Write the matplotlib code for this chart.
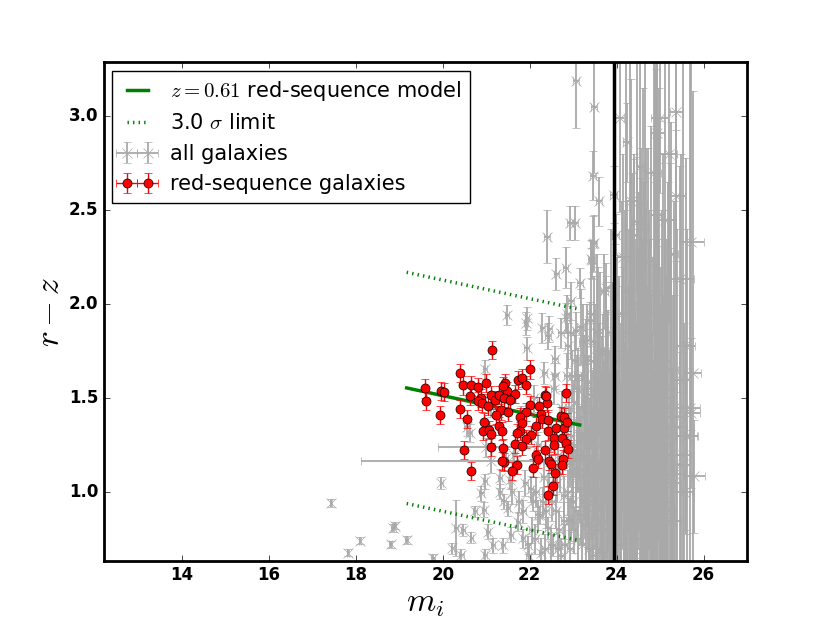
import numpy as np
import matplotlib
matplotlib.use('Agg')
import matplotlib.pyplot as plt

plt.style.use('classic')

# red-sequence model: z = 0.61
model_x = [19.17, 23.15]
model_y = [1.556, 1.359]
sigma_off = 0.615

# red-sequence members (m_i, r-z)
red_x = [21.14, 20.40, 22.01, 19.60, 19.61, 19.96, 20.02, 19.93, 20.47, 20.64,
         20.80, 20.99, 20.62, 20.87, 20.80, 20.39, 20.56, 21.10, 21.20, 21.29,
         21.43, 21.48, 21.40, 21.66, 21.74, 21.82, 21.91, 22.36, 22.83, 22.40,
         22.00, 22.22, 21.92, 21.33, 21.50, 21.22, 20.96, 21.77, 22.25, 22.29,
         22.42, 22.73, 22.79, 21.83, 21.29, 22.15, 20.93, 21.06, 21.10, 21.36,
         21.77, 22.41, 22.61, 22.78, 21.71, 22.04, 21.91, 22.56, 22.74, 22.84,
         22.88, 22.56, 21.66, 21.82, 21.10, 21.39, 20.48, 22.36, 22.15, 22.18,
         22.44, 22.76, 22.74, 21.41, 21.37, 21.70, 21.59, 22.08, 22.50, 22.58,
         20.64, 22.54, 22.43, 21.39, 21.54, 20.91, 21.04, 22.86, 22.37]
red_y = [1.757, 1.636, 1.654, 1.553, 1.485, 1.542, 1.535, 1.411, 1.569, 1.569,
         1.560, 1.583, 1.512, 1.500, 1.485, 1.446, 1.393, 1.517, 1.490, 1.517,
         1.580, 1.539, 1.503, 1.524, 1.596, 1.610, 1.571, 1.516, 1.530, 1.476,
         1.464, 1.460, 1.427, 1.436, 1.427, 1.411, 1.375, 1.400, 1.418, 1.393,
         1.388, 1.405, 1.400, 1.370, 1.352, 1.352, 1.325, 1.334, 1.311, 1.325,
         1.329, 1.325, 1.343, 1.343, 1.316, 1.304, 1.286, 1.290, 1.290, 1.261,
         1.231, 1.254, 1.260, 1.249, 1.242, 1.236, 1.228, 1.226, 1.197, 1.180,
         1.169, 1.178, 1.144, 1.160, 1.169, 1.148, 1.116, 1.130, 1.151, 1.101,
         1.112, 1.036, 0.988, 1.565, 1.494, 1.476, 1.459, 1.375, 1.512]
red_xerr = 0.03
red_yerr = 0.048

# all galaxies: bright, well measured
bright_x = [17.43, 17.82, 18.10, 18.80, 18.85, 18.89, 19.17, 19.78, 19.97, 20.22,
            20.31, 20.47, 20.66, 20.74, 20.89, 20.97, 21.04, 21.16, 20.95, 21.31,
            21.40, 21.50, 20.43, 20.97, 21.39, 21.57, 21.73, 21.85, 21.96, 22.08,
            22.23, 22.42, 22.54, 21.12, 21.00, 20.62, 21.46, 21.54, 21.31, 21.48,
            21.94, 21.92, 22.29, 22.42, 22.45, 21.93, 22.61, 22.83, 23.15, 22.96,
            23.38, 23.42, 23.46, 22.72, 23.07, 23.30, 22.84, 22.40, 23.07, 23.46,
            23.47, 23.59, 22.92, 23.05, 23.43, 23.49, 23.93, 23.98, 23.76, 20.97,
            22.58, 22.34, 22.58, 22.86]
bright_y = [0.943, 0.680, 0.744, 0.724, 0.810, 0.824, 0.748, 0.650, 1.050, 0.703,
            0.810, 0.800, 0.760, 0.900, 0.996, 1.059, 0.790, 0.720, 0.908, 1.005,
            0.952, 0.916, 0.668, 0.668, 0.720, 0.774, 0.845, 0.756, 0.720, 0.952,
            0.880, 0.810, 0.720, 1.165, 1.240, 1.316, 1.183, 1.068, 1.076, 1.944,
            1.926, 1.900, 1.873, 1.832, 1.870, 1.766, 2.161, 2.196, 2.116, 2.019,
            1.912, 2.241, 2.320, 1.850, 1.859, 1.805, 1.930, 2.360, 3.188, 2.685,
            3.050, 2.548, 2.433, 2.433, 2.237, 2.326, 2.584, 2.371, 2.090, 1.654,
            1.708, 1.636, 1.619, 1.948]
bright_xerr = [0.03, 0.03, 0.03, 0.03, 0.03, 0.03, 0.03, 0.04, 0.04, 0.04,
               0.04, 0.04, 0.04, 0.04, 0.05, 0.05, 0.05, 0.05, 0.05, 0.05,
               0.05, 0.05, 0.05, 0.05, 0.05, 0.05, 0.05, 0.05, 0.06, 0.06,
               0.06, 0.06, 0.06, 3.00, 1.10, 0.05, 0.05, 0.05, 0.05, 0.05,
               0.05, 0.05, 0.06, 0.06, 0.06, 0.05, 0.06, 0.06, 0.07, 0.07,
               0.07, 0.07, 0.07, 0.06, 0.07, 0.07, 0.06, 0.06, 0.07, 0.07,
               0.07, 0.07, 0.07, 0.07, 0.07, 0.07, 0.08, 0.08, 0.08, 0.05,
               0.06, 0.06, 0.06, 0.07]
bright_yerr = [0.02, 0.02, 0.02, 0.02, 0.02, 0.02, 0.02, 0.02, 0.03, 0.03,
               0.15, 0.03, 0.03, 0.03, 0.04, 0.04, 0.04, 0.04, 0.04, 0.04,
               0.04, 0.04, 0.03, 0.03, 0.04, 0.04, 0.05, 0.05, 0.05, 0.05,
               0.05, 0.06, 0.06, 0.06, 0.05, 0.05, 0.05, 0.05, 0.05, 0.053,
               0.06, 0.06, 0.08, 0.07, 0.07, 0.06, 0.085, 0.11, 0.08, 0.10,
               0.10, 0.10, 0.15, 0.08, 0.10, 0.12, 0.08, 0.14, 0.25, 0.13,
               0.35, 0.13, 0.09, 0.09, 0.10, 0.15, 0.15, 0.11, 0.13, 0.05,
               0.07, 0.06, 0.07, 0.10]

# all galaxies: under the red sequence (21.5 - 23.0)
mid_x = [21.60, 21.75, 21.90, 22.05, 22.15, 22.30, 22.45, 22.60, 22.70, 22.80,
         22.35, 22.65, 22.20, 22.50, 22.75, 21.80, 21.65, 22.10, 22.85, 22.55,
         21.10, 20.55,
         21.85, 21.98, 22.02, 22.12, 22.18, 22.27, 22.33, 22.38, 22.48, 22.52,
         22.62, 22.68, 22.72, 22.78, 22.82, 22.88, 22.90, 22.66, 22.93, 22.88,
         22.95, 22.98]
mid_y = [1.00, 0.95, 1.05, 0.80, 1.00, 0.95, 1.05, 0.90, 1.10, 0.85,
         0.70, 0.70, 1.25, 1.30, 1.45, 1.40, 1.20, 1.50, 1.25, 1.55,
         1.45, 1.35,
         0.90, 0.66, 1.02, 0.75, 0.88, 0.68, 1.08, 0.90, 0.72, 0.95,
         1.05, 0.80, 0.66, 0.98, 0.72, 1.00, 0.85, 1.20, 1.15, 1.78,
         1.85, 1.62]
mid_xerr = [0.05, 0.06, 0.06, 0.06, 0.06, 0.06, 0.06, 0.07, 0.07, 0.07,
            0.06, 0.07, 0.06, 0.06, 0.07, 0.05, 0.05, 0.06, 0.07, 0.06,
            0.05, 0.05,
            0.06, 0.06, 0.06, 0.06, 0.06, 0.06, 0.06, 0.06, 0.06, 0.07,
            0.07, 0.07, 0.07, 0.07, 0.07, 0.07, 0.07, 0.07, 0.07, 0.07,
            0.07, 0.07]
mid_yerr = [0.06, 0.06, 0.07, 0.07, 0.08, 0.08, 0.09, 0.09, 0.10, 0.10,
            0.08, 0.09, 0.07, 0.08, 0.09, 0.06, 0.06, 0.07, 0.10, 0.08,
            0.05, 0.05,
            0.06, 0.07, 0.07, 0.08, 0.08, 0.08, 0.09, 0.09, 0.09, 0.10,
            0.10, 0.10, 0.10, 0.11, 0.11, 0.12, 0.12, 0.10, 0.12, 0.12,
            0.14, 0.14]

# all galaxies: crowded faint end (22.8 - 24.0)
crowd_x = [22.85, 22.90, 22.95, 22.98, 23.00, 23.02, 23.05, 23.08, 23.10, 23.12,
           23.15, 23.18, 23.20, 23.22, 23.25, 23.28, 23.30, 23.32, 23.35, 23.37,
           23.40, 23.42, 23.45, 23.47, 23.50, 23.52, 23.55, 23.57, 23.60, 23.62,
           23.65, 23.67, 23.70, 23.72, 23.75, 23.77, 23.80, 23.82, 23.85, 23.87,
           23.90, 23.92, 23.94, 23.96, 23.98, 23.02, 23.12, 23.27, 23.38, 23.53,
           23.63, 23.78, 23.88, 23.44, 23.66, 23.83, 22.92, 22.96, 23.06, 23.16,
           23.33, 23.48, 23.58, 23.73,
           23.03, 23.07, 23.11, 23.14, 23.17, 23.19, 23.23, 23.26, 23.29, 23.31,
           23.34, 23.36, 23.39, 23.41, 23.43, 23.46, 23.49, 23.51, 23.54, 23.56,
           23.59, 23.61, 23.64, 23.68, 23.69, 23.71, 23.74, 23.76, 23.79, 23.81,
           23.84, 23.86, 23.89, 23.91, 23.93, 23.95, 23.97, 23.08, 23.21, 23.36,
           23.52, 23.67, 23.82, 23.92, 23.24, 23.40, 23.56, 23.72, 23.87, 23.00]
crowd_y = [1.62, 1.45, 1.30, 1.12, 0.95, 0.80, 1.70, 1.55, 1.38, 1.20,
           1.02, 0.88, 0.72, 1.80, 1.62, 1.48, 1.30, 1.10, 0.95, 0.78,
           1.70, 1.52, 1.35, 1.18, 1.00, 0.85, 0.70, 1.85, 1.60, 1.42,
           1.25, 1.08, 0.92, 0.76, 1.75, 1.50, 1.32, 1.15, 0.98, 0.82,
           1.62, 1.40, 1.20, 1.02, 0.86, 1.48, 1.62, 0.98, 1.24, 1.44,
           0.98, 1.05, 1.28, 0.66, 0.68, 0.70, 0.70, 0.86, 1.08, 1.28,
           1.58, 1.80, 1.12, 1.36,
           1.25, 0.90, 0.75, 1.45, 1.88, 1.12, 0.95, 1.30, 0.82, 1.72,
           1.42, 1.05, 0.90, 1.95, 1.10, 0.82, 1.30, 1.62, 0.95, 1.32,
           0.80, 1.75, 1.12, 1.50, 0.85, 1.22, 0.95, 1.62, 0.80, 1.45,
           1.10, 1.85, 0.95, 1.15, 0.78, 1.45, 1.70, 1.18, 1.40, 0.70,
           1.15, 1.38, 1.25, 1.00, 1.08, 1.55, 1.85, 1.05, 1.55, 1.10]
crowd_xerr = [0.07, 0.07, 0.07, 0.07, 0.07, 0.07, 0.08, 0.08, 0.08, 0.08,
              0.08, 0.08, 0.08, 0.08, 0.08, 0.09, 0.09, 0.09, 0.09, 0.09,
              0.09, 0.09, 0.09, 0.09, 0.10, 0.10, 0.10, 0.10, 0.10, 0.10,
              0.10, 0.10, 0.10, 0.10, 0.11, 0.11, 0.11, 0.11, 0.11, 0.11,
              0.11, 0.11, 0.12, 0.12, 0.12, 0.07, 0.08, 0.09, 0.09, 0.10,
              0.10, 0.11, 0.11, 0.09, 0.10, 0.11, 0.07, 0.07, 0.08, 0.08,
              0.09, 0.09, 0.10, 0.10,
              0.08, 0.08, 0.08, 0.08, 0.08, 0.08, 0.08, 0.09, 0.09, 0.09,
              0.09, 0.09, 0.09, 0.09, 0.09, 0.09, 0.10, 0.10, 0.10, 0.10,
              0.10, 0.10, 0.10, 0.10, 0.10, 0.10, 0.11, 0.11, 0.11, 0.11,
              0.11, 0.11, 0.11, 0.11, 0.12, 0.12, 0.12, 0.08, 0.08, 0.09,
              0.10, 0.10, 0.11, 0.12, 0.08, 0.09, 0.10, 0.10, 0.11, 0.07]
crowd_yerr = [0.12, 0.10, 0.15, 0.12, 0.14, 0.12, 0.14, 0.18, 0.16, 0.20,
              0.18, 0.15, 0.14, 0.20, 0.22, 0.25, 0.22, 0.28, 0.25, 0.20,
              0.30, 0.26, 0.30, 0.32, 0.30, 0.28, 0.25, 0.35, 0.30, 0.35,
              0.40, 0.38, 0.35, 0.30, 0.40, 0.45, 0.42, 0.45, 0.40, 0.38,
              0.50, 0.48, 0.50, 0.45, 0.42, 0.12, 0.15, 0.22, 0.26, 0.30,
              0.34, 0.40, 0.45, 0.22, 0.30, 0.35, 0.10, 0.12, 0.15, 0.18,
              0.25, 0.35, 0.32, 0.40,
              0.14, 0.16, 0.15, 0.18, 0.20, 0.20, 0.22, 0.25, 0.24, 0.28,
              0.30, 0.30, 0.28, 0.35, 0.35, 0.32, 0.36, 0.38, 0.36, 0.40,
              0.38, 0.42, 0.44, 0.45, 0.42, 0.48, 0.45, 0.50, 0.48, 0.52,
              0.55, 0.55, 0.55, 0.60, 0.55, 0.60, 0.62, 0.15, 0.22, 0.26,
              0.35, 0.45, 0.50, 0.58, 0.22, 0.32, 0.42, 0.48, 0.55, 0.14]

# all galaxies: beyond the magnitude limit (24 - 26)
faint_x = [24.07, 24.24, 24.54, 24.93, 24.99, 25.37, 25.37, 24.95, 24.57, 24.47,
           24.41, 24.67, 25.26, 25.72, 24.72, 25.45, 24.21, 24.57, 24.90, 23.72,
           25.60, 25.75, 25.72, 25.60, 25.45, 25.79, 24.21, 24.48, 24.88, 24.92,
           25.36, 25.52, 25.69, 24.30, 24.65,
           24.02, 24.05, 24.08, 24.10, 24.14, 24.18, 24.20, 24.25, 24.28, 24.32,
           24.35, 24.38, 24.42, 24.45, 24.50, 24.53, 24.58, 24.62, 24.66, 24.70,
           24.75, 24.80, 24.85, 24.90, 24.95, 25.00, 25.05, 25.10, 25.15, 25.22,
           25.28, 24.12, 24.40,
           24.01, 24.03, 24.06, 24.09, 24.11, 24.13, 24.16, 24.19, 24.22, 24.23,
           24.26, 24.29, 24.31, 24.33, 24.36, 24.37, 24.39, 24.43, 24.46, 24.48,
           24.51, 24.55, 24.56, 24.59, 24.61, 24.64, 24.68, 24.71, 24.73, 24.77,
           24.79, 24.82, 24.84, 24.87, 24.89, 24.91, 24.94, 24.97, 24.98, 25.02,
           25.04, 25.07, 25.09, 25.12, 25.14, 25.17, 25.19, 25.24, 25.27, 25.31,
           25.33, 25.40, 25.48, 25.55, 25.63, 24.15, 24.34, 24.60, 24.85, 25.12,
           25.20]
faint_y = [2.993, 2.863, 2.733, 2.911, 2.993, 3.023, 2.579, 2.477, 2.534, 2.436,
           2.371, 2.330, 2.271, 2.330, 2.232, 2.134, 2.072, 2.072, 2.050, 2.070,
           1.780, 1.636, 1.423, 1.300, 1.148, 1.085, 1.50, 1.30, 1.60, 1.00,
           1.40, 1.20, 1.45, 1.10, 1.70,
           1.70, 1.35, 1.05, 0.80, 1.55, 1.20, 0.90, 1.85, 1.45, 1.00,
           0.75, 1.65, 1.28, 0.95, 1.50, 1.15, 0.85, 1.80, 1.35, 1.05,
           1.60, 1.20, 0.90, 1.40, 1.75, 1.10, 1.50, 0.95, 1.30, 1.65,
           1.05, 1.95, 2.00,
           1.10, 0.90, 1.55, 1.25, 0.72, 1.40, 1.00, 1.75, 1.30, 0.80,
           1.10, 1.60, 0.90, 1.35, 1.85, 1.05, 0.70, 1.50, 1.15, 0.80,
           1.70, 1.30, 0.95, 1.45, 1.10, 0.75, 1.55, 1.25, 0.90, 1.40,
           1.85, 1.05, 1.30, 0.80, 1.60, 1.15, 0.95, 1.35, 1.95, 1.25,
           0.85, 1.70, 1.15, 1.45, 0.90, 1.20, 1.55, 1.30, 0.85, 1.45,
           1.10, 1.35, 1.60, 1.00, 1.30, 2.25, 2.55, 2.40, 2.70, 2.45,
           2.80]
faint_xerr = [0.10, 0.10, 0.10, 0.15, 0.20, 0.15, 0.21, 0.15, 0.12, 0.12,
              0.12, 0.13, 0.15, 0.28, 0.13, 0.33, 0.10, 0.12, 0.13, 0.08,
              0.20, 0.20, 0.20, 0.25, 0.25, 0.24, 0.12, 0.12, 0.15, 0.15,
              0.20, 0.20, 0.22, 0.12, 0.14,
              0.12, 0.12, 0.12, 0.12, 0.13, 0.13, 0.13, 0.13, 0.13, 0.14,
              0.14, 0.14, 0.14, 0.15, 0.15, 0.15, 0.15, 0.16, 0.16, 0.16,
              0.17, 0.17, 0.17, 0.18, 0.18, 0.18, 0.19, 0.19, 0.20, 0.20,
              0.21, 0.12, 0.14,
              0.12, 0.12, 0.12, 0.12, 0.12, 0.13, 0.13, 0.13, 0.13, 0.13,
              0.13, 0.13, 0.14, 0.14, 0.14, 0.14, 0.14, 0.14, 0.15, 0.15,
              0.15, 0.15, 0.15, 0.15, 0.16, 0.16, 0.16, 0.16, 0.16, 0.17,
              0.17, 0.17, 0.17, 0.17, 0.18, 0.18, 0.18, 0.18, 0.18, 0.19,
              0.19, 0.19, 0.19, 0.20, 0.20, 0.20, 0.20, 0.21, 0.21, 0.21,
              0.22, 0.22, 0.23, 0.24, 0.24, 0.13, 0.14, 0.15, 0.17, 0.19,
              0.20]
faint_yerr = [0.50, 0.21, 0.90, 0.60, 0.40, 0.90, 0.35, 0.50, 0.30, 0.35,
              0.40, 0.50, 0.70, 1.00, 0.60, 0.60, 0.80, 0.60, 1.20, 0.20,
              1.00, 1.50, 0.40, 0.50, 0.60, 0.30, 1.90, 2.20, 1.80, 2.50,
              2.00, 2.20, 1.90, 2.30, 1.70,
              0.55, 0.60, 0.55, 0.50, 0.65, 0.60, 0.55, 0.70, 0.65, 0.60,
              0.55, 0.75, 0.70, 0.65, 0.80, 0.75, 0.70, 0.85, 0.80, 0.75,
              0.90, 0.85, 0.80, 0.95, 1.00, 0.90, 1.00, 0.95, 1.05, 1.10,
              1.00, 0.60, 0.80,
              0.55, 0.50, 0.60, 0.65, 0.45, 0.70, 0.60, 0.75, 0.70, 0.55,
              0.65, 0.80, 0.60, 0.75, 0.85, 0.70, 0.50, 0.85, 0.75, 0.60,
              0.90, 0.80, 0.70, 0.90, 0.80, 0.60, 0.95, 0.85, 0.70, 0.95,
              1.10, 0.80, 0.95, 0.70, 1.05, 0.90, 0.80, 1.00, 1.20, 0.95,
              0.75, 1.10, 0.90, 1.05, 0.80, 0.95, 1.10, 1.00, 0.80, 1.10,
              0.95, 1.05, 1.20, 0.90, 1.10, 0.55, 0.65, 0.75, 0.85, 0.95,
              0.90]

mag_limit = 23.95

all_x = bright_x + mid_x + crowd_x + faint_x
all_y = bright_y + mid_y + crowd_y + faint_y
all_xerr = bright_xerr + mid_xerr + crowd_xerr + faint_xerr
all_yerr = bright_yerr + mid_yerr + crowd_yerr + faint_yerr

fig = plt.figure(figsize=(8.3, 6.23), dpi=100, facecolor='white')
ax = fig.add_subplot(111)
ax.set_facecolor('white')

mx = np.array(model_x)
my = np.array(model_y)
ax.plot(mx, my, color='green', lw=2.5, zorder=4,
        label=r'$z=0.61$ red-sequence model')
ax.plot(mx, my + sigma_off, color='green', ls=':', lw=2.5, zorder=4,
        label=r'3.0 $\sigma$ limit')
ax.plot(mx, my - sigma_off, color='green', ls=':', lw=2.5, zorder=4)

ax.errorbar(all_x, all_y, xerr=all_xerr, yerr=all_yerr, fmt='x',
            color='darkgray', ecolor='darkgray', mec='darkgray', ms=7,
            elinewidth=1.3, capsize=3, zorder=2, label='all galaxies')
ax.errorbar(red_x, red_y, xerr=red_xerr, yerr=red_yerr, fmt='o',
            color='red', ecolor='red', mfc='red', mec='black', ms=6.5,
            elinewidth=1.0, capsize=3, zorder=5, label='red-sequence galaxies')

ax.axvline(mag_limit, color='black', lw=2.5, zorder=6)

ax.set_xlim(12.2, 27.0)
ax.set_ylim(0.637, 3.288)
ax.set_xticks([14, 16, 18, 20, 22, 24, 26])
ax.set_yticks([1.0, 1.5, 2.0, 2.5, 3.0])
for lab in ax.get_xticklabels() + ax.get_yticklabels():
    lab.set_fontweight('bold')
    lab.set_fontsize(12)
for sp in ax.spines.values():
    sp.set_linewidth(2)

ax.set_xlabel(r'$m_i$', fontsize=24, labelpad=1)
ax.set_ylabel(r'$r-z$', fontsize=24, labelpad=2)

leg = ax.legend(loc='upper left', numpoints=2, fontsize=15,
                borderaxespad=0.4, handlelength=1.6)
leg.get_frame().set_linewidth(1.0)

fig.savefig('out.png', dpi=100, facecolor='white')
